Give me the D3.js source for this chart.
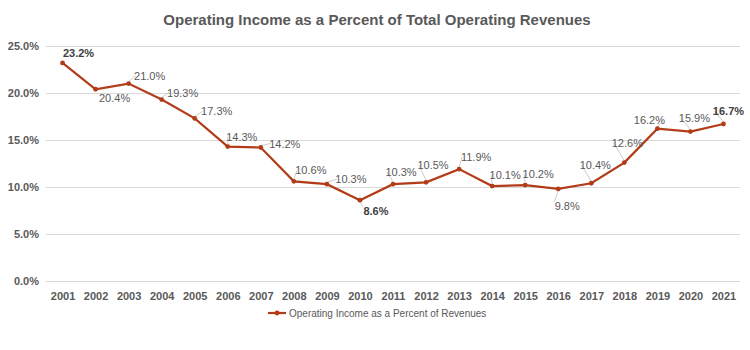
<!DOCTYPE html>
<html>
<head>
<meta charset="utf-8">
<script src="https://cdn.jsdelivr.net/npm/d3@7"></script>
<style>
  body { margin: 0; background: #fff; }
  svg { font-family: "Liberation Sans", Arial, sans-serif; }
  .tick text { fill: #595959; font-size: 11px; font-weight: bold; }
  .title { fill: #595959; font-size: 15px; font-weight: bold; }
  .lbl { font-size: 11px; fill: #595959; }
  .lbl.strong { font-weight: bold; fill: #404040; }
  .legend-text { fill: #595959; font-size: 10px; }
</style>
</head>
<body>
<svg width="750" height="350"></svg>
<script>
const years = ['2001','2002','2003','2004','2005','2006','2007','2008','2009','2010','2011',
  '2012','2013','2014','2015','2016','2017','2018','2019','2020','2021'];
const values = [23.2, 20.4, 21.0, 19.3, 17.3, 14.3, 14.2, 10.6, 10.3, 8.6, 10.3,
  10.5, 11.9, 10.1, 10.2, 9.8, 10.4, 12.6, 16.2, 15.9, 16.7];
const yTicks = [0, 5, 10, 15, 20, 25];
const boldYears = ['2001', '2010', '2021'];
const seriesName = 'Operating Income as a Percent of Revenues';
const chartTitle = 'Operating Income as a Percent of Total Operating Revenues';

// label placement relative to each point (label center x, baseline y), leader flag
const labelOffsets = [
  [16, -6, 0], [19, 13, 0], [21, -4, 1], [21, -3, 1], [22, -3, 1], [14, -6, 1], [24, 0, 1],
  [17, -7, 1], [24, -1, 1], [16, 15, 1], [8, -8, 1], [7, -13, 1], [17, -8, 1], [13, -7, 1],
  [13, -7, 1], [9, 21, 1], [4, -14, 1], [3, -16, 1], [-8, -5, 1], [4, -10, 1], [5, -9, 1]
];

const svg = d3.select('svg');
const color = '#b23c17';

const x = d3.scalePoint()
  .domain(years)
  .range([46, 740])
  .padding(0.5);

const y = d3.scaleLinear()
  .domain([0, 25])
  .range([281, 46]);

svg.append('text')
  .attr('class', 'title')
  .attr('x', 377)
  .attr('y', 25)
  .attr('text-anchor', 'middle')
  .text(chartTitle);

// gridlines + y labels
svg.append('g')
  .attr('transform', 'translate(46,0)')
  .call(d3.axisLeft(y)
    .tickValues(yTicks)
    .tickSize(-694)
    .tickPadding(7)
    .tickFormat(d => d3.format('.1f')(d) + '%'))
  .call(g => g.select('.domain').remove())
  .call(g => g.selectAll('.tick line').attr('stroke', '#d9d9d9'));

svg.append('g')
  .attr('transform', 'translate(0,281)')
  .call(d3.axisBottom(x).tickSize(0).tickPadding(11))
  .call(g => g.select('.domain').remove());

const line = d3.line()
  .x((d, i) => x(years[i]))
  .y(d => y(d));

svg.append('path')
  .attr('d', line(values))
  .attr('fill', 'none')
  .attr('stroke', color)
  .attr('stroke-width', 2.2);

// leader lines
const pts = values.map((v, i) => ({ v, year: years[i], px: x(years[i]), py: y(v), off: labelOffsets[i] }));

svg.append('g').selectAll('path')
  .data(pts.filter(d => d.off[2]))
  .join('path')
  .attr('fill', 'none')
  .attr('stroke', '#bfbfbf')
  .attr('stroke-width', 0.8)
  .attr('d', d => {
    const lx = d.px + d.off[0], ly = d.py + d.off[1];
    const w = 13;
    if (d.off[1] > 8) {
      // label below
      const ex = lx - w;
      return `M${d.px},${d.py + 2}L${ex},${ly - 8}`;
    }
    const ex = d.off[0] >= 0 ? lx - w - 1 : lx + w + 1;
    return `M${d.px},${d.py - 2}L${ex},${ly - 4}`;
  });

svg.append('g').selectAll('circle')
  .data(pts)
  .join('circle')
  .attr('cx', d => d.px)
  .attr('cy', d => d.py)
  .attr('r', 2.4)
  .attr('fill', color);

svg.append('g').selectAll('text')
  .data(pts)
  .join('text')
  .attr('class', d => boldYears.includes(d.year) ? 'lbl strong' : 'lbl')
  .attr('x', d => d.px + d.off[0])
  .attr('y', d => d.py + d.off[1])
  .attr('text-anchor', 'middle')
  .text(d => d3.format('.1f')(d.v) + '%');

// legend
const lg = svg.append('g').attr('transform', 'translate(268,313)');
lg.append('line').attr('x1', 0).attr('x2', 18).attr('stroke', color).attr('stroke-width', 2.2);
lg.append('circle').attr('cx', 9).attr('r', 2.4).attr('fill', color);
lg.append('text')
  .attr('class', 'legend-text')
  .attr('x', 21)
  .attr('y', 4)
  .text(seriesName);
</script>
</body>
</html>
